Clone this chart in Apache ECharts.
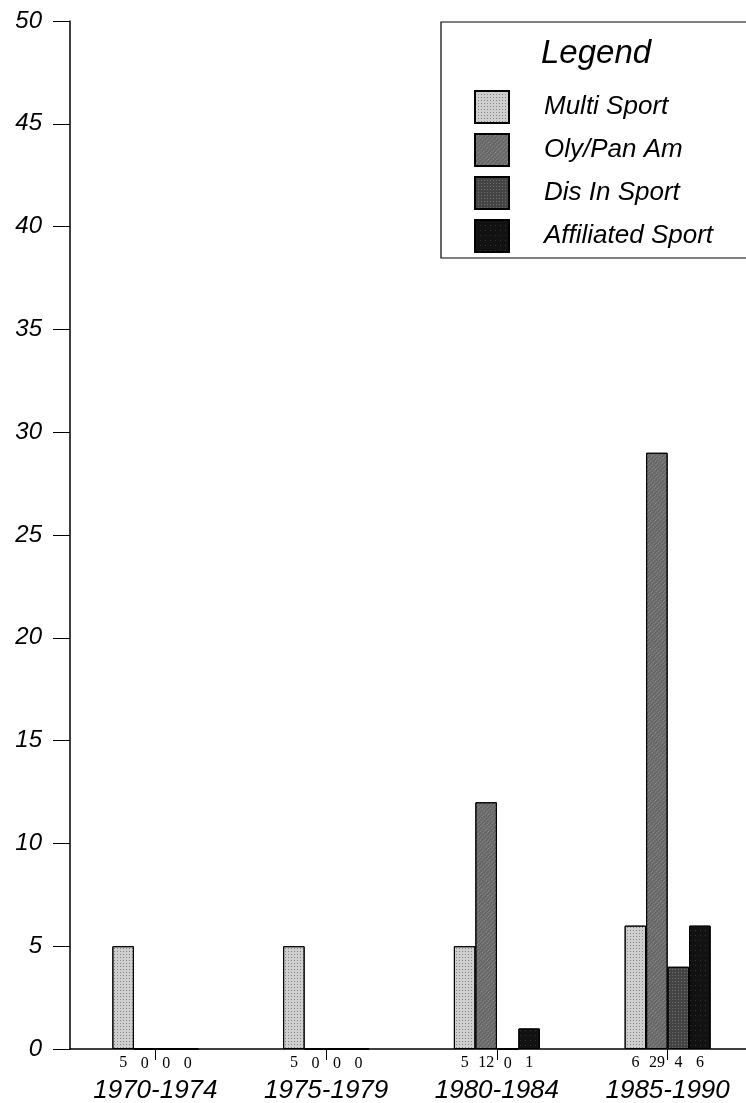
<!DOCTYPE html>
<html>
<head>
<meta charset="utf-8">
<script src="https://cdn.jsdelivr.net/npm/echarts@6/dist/echarts.min.js"></script>
<style>
html,body{margin:0;padding:0;background:#fff;}
#chart{width:746px;height:1103px;}
</style>
</head>
<body>
<div id="chart"></div>
<script>
const categories = ['1970-1974', '1975-1979', '1980-1984', '1985-1990'];
const seriesNames = ['Multi Sport', 'Oly/Pan Am', 'Dis In Sport', 'Affiliated Sport'];
const multiSport = [5, 5, 5, 6];
const olyPanAm = [0, 0, 12, 29];
const disInSport = [0, 0, 0, 4];
const affiliatedSport = [0, 0, 1, 6];
const yTicks = [0, 5, 10, 15, 20, 25, 30, 35, 40, 45, 50];

const seriesValues = [multiSport, olyPanAm, disInSport, affiliatedSport];
const colors = ['#cfcfcf', '#666666', '#444444', '#121212'];
const decals = [
  {symbol: 'rect', symbolSize: 1, dashArrayX: [[1, 2]], dashArrayY: [1, 2], color: 'rgba(70,70,70,0.55)', rotation: 0},
  {symbol: 'rect', symbolSize: 1, dashArrayX: [[1, 2]], dashArrayY: [1, 1], color: 'rgba(215,215,215,0.45)', rotation: Math.PI / 4},
  {symbol: 'rect', symbolSize: 1, dashArrayX: [[1, 2]], dashArrayY: [1, 2], color: 'rgba(170,170,170,0.45)', rotation: 0},
  {symbol: 'rect', symbolSize: 1, dashArrayX: [[1, 4]], dashArrayY: [1, 4], color: 'rgba(90,90,90,0.5)', rotation: 0}
];

const chart = echarts.init(document.getElementById('chart'), null, {renderer: 'canvas'});

const series = seriesNames.map((name, i) => ({
  name: name,
  type: 'bar',
  data: seriesValues[i],
  barWidth: 21.5,
  barGap: '0%',
  itemStyle: {color: colors[i], borderColor: '#000', borderWidth: 1, decal: decals[i]},
  label: {
    show: true,
    position: 'bottom',
    distance: 6,
    color: '#000',
    fontFamily: 'Liberation Serif',
    fontSize: 16
  },
  emphasis: {disabled: true}
}));

chart.setOption({
  animation: false,
  backgroundColor: '#fff',
  aria: {enabled: false},
  grid: {left: 70, width: 683, top: 21, bottom: 54, containLabel: false, outerBoundsMode: 'none'},
  xAxis: {
    type: 'category',
    data: categories,
    axisLine: {show: true, lineStyle: {color: '#000', width: 1.5}},
    axisTick: {show: true, alignWithLabel: true, length: 11, lineStyle: {color: '#000', width: 1}},
    axisLabel: {
      color: '#000',
      fontFamily: 'Liberation Sans',
      fontStyle: 'italic',
      fontSize: 26,
      margin: 29
    },
    splitLine: {show: false}
  },
  yAxis: {
    type: 'value',
    min: yTicks[0],
    max: yTicks[yTicks.length - 1],
    interval: 5,
    axisLine: {show: true, lineStyle: {color: '#000', width: 1.5}},
    axisTick: {show: true, length: 17, lineStyle: {color: '#000', width: 1}},
    axisLabel: {
      color: '#000',
      fontFamily: 'Liberation Sans',
      fontStyle: 'italic',
      fontSize: 24,
      margin: 28
    },
    splitLine: {show: false}
  },
  title: {
    text: 'Legend',
    left: 541,
    top: 37,
    padding: 0,
    textStyle: {fontFamily: 'Liberation Sans', fontStyle: 'italic', fontWeight: 'normal', fontSize: 33, color: '#000'}
  },
  legend: {
    data: seriesNames,
    orient: 'vertical',
    left: 474,
    top: 90,
    padding: 0,
    itemWidth: 34,
    itemHeight: 32,
    itemGap: 9,
    icon: 'rect',
    selectedMode: false,
    textStyle: {fontFamily: 'Liberation Sans', fontStyle: 'italic', fontSize: 26, color: '#000', padding: [0, 0, 0, 30]}
  },
  graphic: [{
    type: 'rect',
    shape: {x: 441, y: 22, width: 320, height: 236},
    style: {fill: 'none', stroke: '#000', lineWidth: 1.2},
    silent: true
  }],
  series: series
});
</script>
</body>
</html>
